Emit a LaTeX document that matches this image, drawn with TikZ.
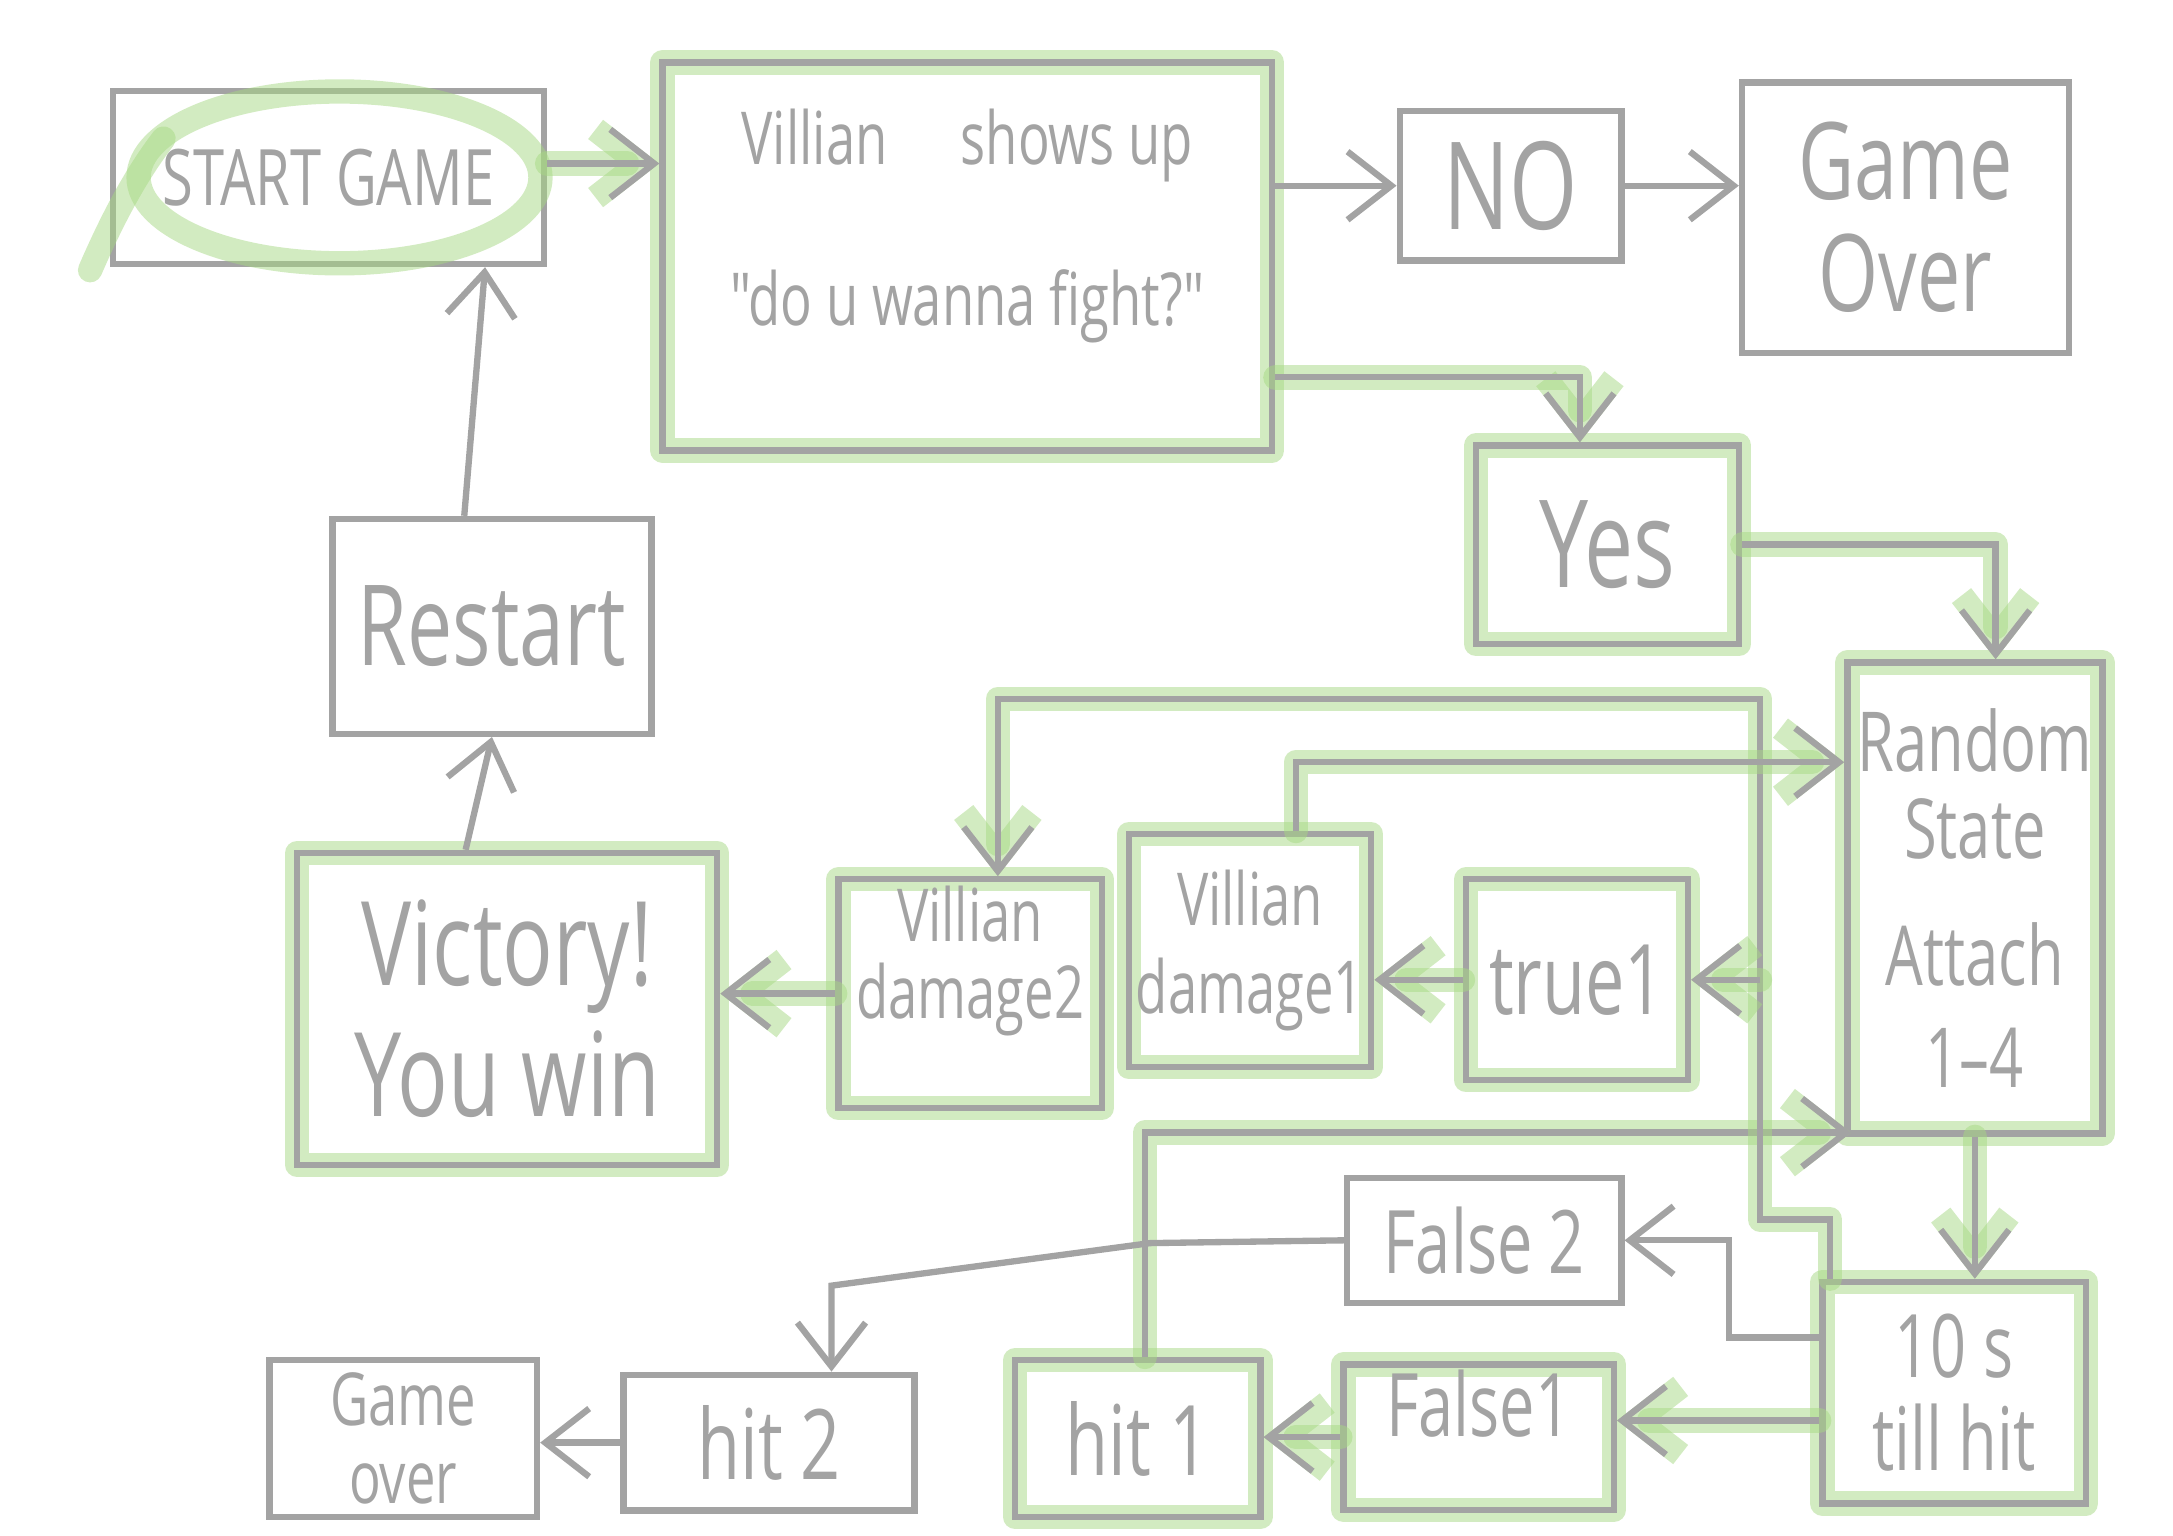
\documentclass[tikz,border=0pt]{standalone}
\usepackage{fontspec}
\usepackage{xcolor}
\usetikzlibrary{arrows.meta,calc}
\newfontfamily\handfont[FakeStretch=0.72]{Open Sans}
\definecolor{sketch}{HTML}{A3A3A3}
\definecolor{pickgreen}{HTML}{A6D883}

\begin{document}
\begin{tikzpicture}[x=0.1mm, y=-0.1mm,
    box/.style={rectangle, draw=sketch, line width=1.3pt, align=center, text=sketch, inner sep=1pt},
    hand/.style={font=\handfont\fontsize{#1}{#1}\selectfont},
    pick/.style={preaction={draw=pickgreen, draw opacity=.5, line width=5pt, line join=round, line cap=round}},
    pickline/.style={draw=pickgreen, draw opacity=.5, line width=5pt, line cap=round},
    flow/.style={draw=sketch, line width=1.3pt, -{Straight Barb[length=9pt,width=14pt]}}]
    \useasboundingbox (0,0) rectangle (1568,1108);

    \node [box, hand=16, minimum width=31.1mm, minimum height=12.5mm] (startgame) at (237,128) {START GAME};
    \node [box, pick, hand=15, minimum width=44mm, minimum height=28mm] (villain) at (698,185) {Villian\quad shows up\\[17pt] "do u wanna fight?"\\[1pt]\mbox{}};
    \node [box, hand=25, minimum width=16mm, minimum height=10.8mm] (no) at (1090,134) {NO};
    \node [box, hand=22, minimum width=23.6mm, minimum height=19.5mm] (gameover) at (1375,157) {Game\\[1pt]Over};
    \node [box, pick, hand=25, minimum width=19mm, minimum height=14.3mm] (yes) at (1160,393) {Yes};
    \node [box, pick, hand=17, minimum width=18.4mm, minimum height=34mm] (random) at (1425,648) {Random\\[1pt]State\\[9pt]Attach\\[4pt]1–4};
    \node [box, hand=23, minimum width=23mm, minimum height=15.5mm] (restart) at (355,452) {Restart};
    \node [box, pick, hand=24, minimum width=30.3mm, minimum height=22.5mm] (victory) at (366,728) {Victory!\\[3pt]You win};
    \node [box, pick, hand=15, minimum width=19mm, minimum height=16.5mm] (damage2) at (700,717) {Villian\\[1pt]damage2\\[2pt]\mbox{}};
    \node [box, pick, hand=15, minimum width=17.5mm, minimum height=16.8mm] (damage1) at (902,686) {Villian\\[3pt]damage1};
    \node [box, pick, hand=20, minimum width=16mm, minimum height=14.5mm] (true1) at (1138,707) {true1};
    \node [box, hand=18, minimum width=19.8mm, minimum height=9mm] (false2) at (1071,895) {False 2};
    \node [box, pick, hand=18, minimum width=19mm, minimum height=16mm] (tens) at (1410,1005) {10 s\\[1pt]till hit};
    \node [box, pick, hand=18, minimum width=19.5mm, minimum height=10.5mm] (false1) at (1067,1037) {False1\\[-4pt]\mbox{}};
    \node [box, pick, hand=20, minimum width=17.7mm, minimum height=11.3mm] (hit1) at (821,1038) {hit 1};
    \node [box, hand=20, minimum width=21mm, minimum height=9.8mm] (hit2) at (555,1041) {hit 2};
    \node [box, hand=15, minimum width=19.3mm, minimum height=11.3mm] (gameover2) at (291,1038) {Game\\[1pt]over};

    \draw [pickline] (245,128) ellipse [x radius=14.5mm, y radius=6.2mm];
    \draw [pickline] (118,100) .. controls (95,130) and (78,165) .. (65,195);

    \coordinate (riser) at (1270,880);

    \path [flow, pick] ($(startgame.east)+(0,-10)$) -- ($(villain.west |- startgame.east)+(0,-10)$);
    \path [flow] (villain.east |- no.west) -- (no.west);
    \path [flow] (no.east) -- (no.east -| gameover.west);
    \path [flow, pick] ($(villain.south east)+(0,-55)$) -| ($(yes.north)+(-20,0)$);
    \path [flow, pick] (yes.east) -| ($(random.north)+(15,0)$);
    \path [flow, pick] (random.south) -- (random.south |- tens.north);
    \path [flow, pick] ($(tens.west)+(0,20)$) -- ($(tens.west -| false1.east)+(0,20)$);
    \path [flow, pick] (false1.west) -- (false1.west -| hit1.east);
    \path [flow, pick] ($(hit1.north)+(5,0)$) |- ($(random.south west)+(5,-3)$);
    \path [flow] ($(tens.west)+(0,-40)$) -- ++(-65,0) |- (false2.east);
    \path [flow] (false2.west) -- (830,897) -- ($(hit2.north)+(45,-62)$) -- ($(hit2.north)+(45,0)$);
    \path [flow] (hit2.west) -- (hit2.west -| gameover2.east);
    \path [flow, pick] ($(tens.north west)+(8,0)$) |- (riser) |- ($(damage2.north)+(20,-128)$) -- ($(damage2.north)+(20,0)$);
    \path [flow, pick] (riser |- true1.east) -- (true1.east);
    \path [flow, pick] (true1.west) -- (true1.west -| damage1.east);
    \path [flow, pick] ($(damage1.north)+(33,0)$) |- ($(random.west)+(0,-98)$);
    \path [flow, pick] (damage2.west) -- (damage2.west -| victory.east);
    \path [flow] ($(victory.north)+(-30,0)$) -- (restart.south);
    \path [flow] ($(restart.north)+(-20,0)$) -- ($(startgame.south)+(113,0)$);
\end{tikzpicture}
\end{document}
